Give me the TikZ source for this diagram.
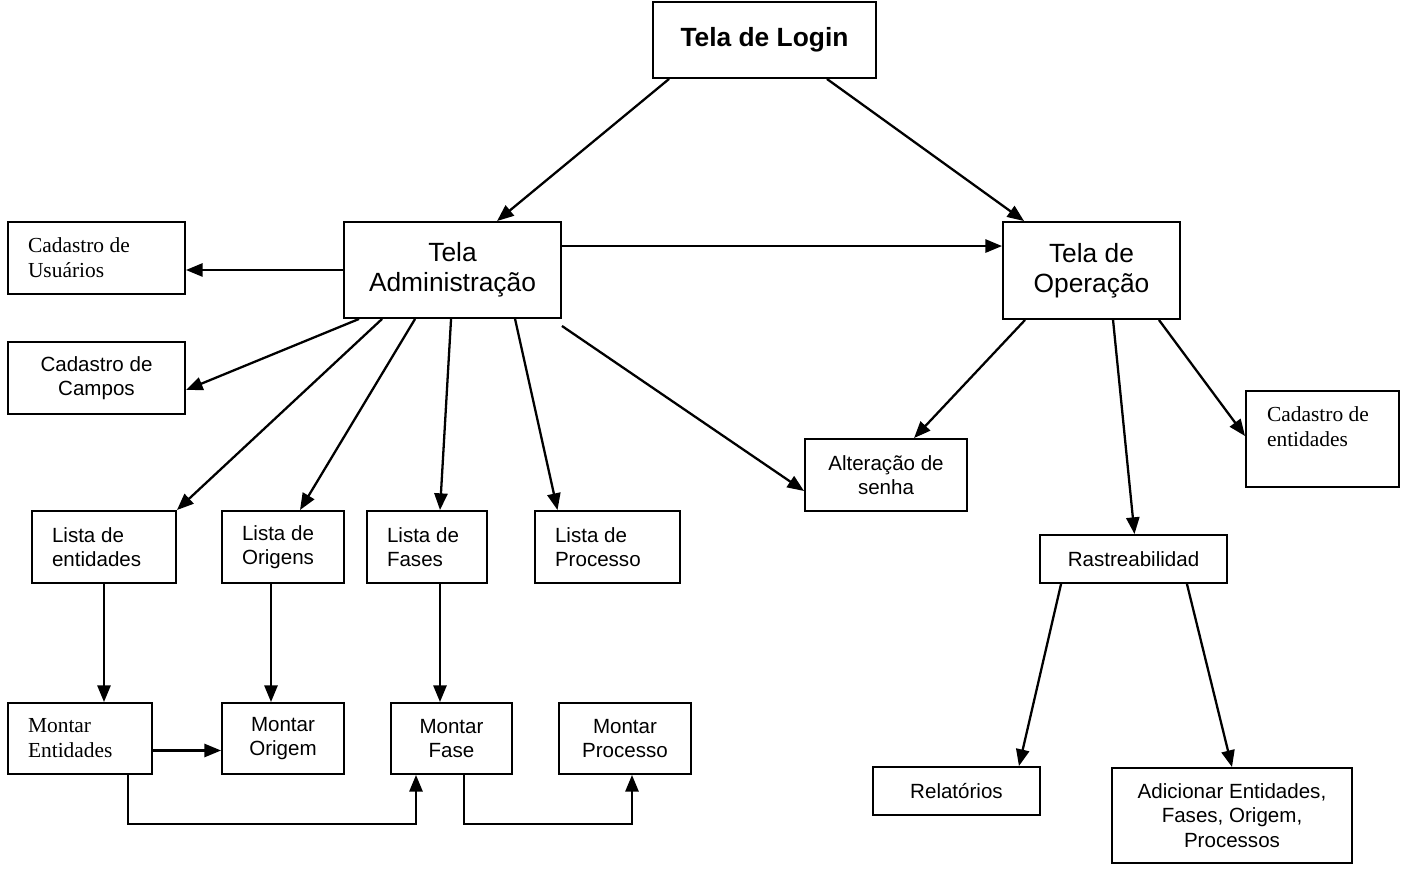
\documentclass[tikz,border=0pt]{standalone}
\usepackage{fontspec}
\setmainfont{Liberation Sans}
\newfontfamily\timesfont{Liberation Serif}
\usetikzlibrary{calc,arrows.meta}

\newcommand{\boxfont}{\fontsize{11.7}{14}\selectfont}
\newcommand{\bigfont}{\fontsize{15}{17.2}\selectfont}
\newcommand{\serfont}{\timesfont\fontsize{12.2}{14.2}\selectfont}

\tikzset{
  box/.style={draw, line width=1.1pt, inner sep=0pt, align=center, font=\boxfont},
  lbox/.style={box, align=flush left, inner xsep=0.4cm},
  sbox/.style={lbox, font=\serfont},
  arr/.style={-{Triangle[length=9.5pt,width=7.5pt]}, line width=1.3pt}
}

\begin{document}
\begin{tikzpicture}[x=0.02cm,y=-0.02cm]
        \useasboundingbox (0,0) rectangle (1404,871);

        \node[box,font=\bigfont\bfseries,minimum width=4.46cm,minimum height=1.52cm] (login) at (764.5,40) {Tela de Login};

        \node[box,font=\bigfont,minimum width=4.34cm,minimum height=1.92cm] (admin) at (452.5,270) {Tela\\Administração};
        \node[box,font=\bigfont,minimum width=3.54cm,minimum height=1.94cm] (oper) at (1091.5,270.5) {Tela de\\Operação};

        \node[sbox,text width=2.74cm,minimum height=1.44cm] (cadu) at (96.5,258) {Cadastro de\\Usuários};
        \node[box,minimum width=3.54cm,minimum height=1.44cm] (cadc) at (96.5,378) {Cadastro de\\Campos};
        \node[box,minimum width=3.24cm,minimum height=1.44cm] (alter) at (886,475) {Alteração de\\senha};
        \node[sbox,inner xsep=0.42cm,text width=2.22cm,minimum height=1.92cm] (cade) at (1322.5,439) {Cadastro de\\entidades\\\mbox{}};

        \node[lbox,text width=2.08cm,minimum height=1.44cm] (lent) at (104,547) {Lista de\\entidades};
        \node[lbox,text width=1.64cm,minimum height=1.44cm] (lori) at (283,547) {Lista de\\Origens};
        \node[lbox,text width=1.60cm,minimum height=1.44cm] (lfas) at (427,547) {Lista de\\Fases};
        \node[lbox,text width=2.10cm,minimum height=1.44cm] (lpro) at (607.5,547) {Lista de\\Processo};
        \node[box,minimum width=3.74cm,minimum height=0.96cm] (rast) at (1133.5,559) {Rastreabilidad};

        \node[sbox,text width=2.08cm,minimum height=1.42cm] (ment) at (80,738.5) {Montar\\Entidades};
        \node[box,minimum width=2.44cm,minimum height=1.42cm] (mori) at (283,738.5) {Montar\\Origem};
        \node[box,minimum width=2.42cm,minimum height=1.42cm] (mfas) at (451.5,738.5) {Montar\\Fase};
        \node[box,minimum width=2.64cm,minimum height=1.42cm] (mpro) at (625,738.5) {Montar\\Processo};

        \node[box,minimum width=3.34cm,minimum height=0.96cm] (rel) at (956.5,791) {Relatórios};
        \node[box,minimum width=4.80cm,minimum height=1.90cm] (adic) at (1232,815.5) {Adicionar Entidades,\\Fases, Origem,\\Processos};

        \coordinate (ao) at ($(admin.north east)+(0,25)$);

        \path[arr] ($(login.south west)+(17,0)$) edge ($(admin.north west)+(154,0)$);
        \path[arr] ($(login.south east)+(-50,0)$) edge ($(oper.north west)+(22,0)$);

        \path[arr] (admin.west) edge (admin.west -| cadu.east);
        \path[arr] (ao) edge (ao -| oper.west);
        \path[arr] ($(admin.south west)+(16,0)$) edge ($(cadc.east)+(0,12)$);
        \path[arr] ($(admin.south west)+(39,0)$) edge (lent.north east);
        \path[arr] ($(admin.south west)+(72,0)$) edge ($(lori.north)+(17,0)$);
        \path[arr] ($(admin.south west)+(108,0)$) edge ($(lfas.north)+(13,0)$);
        \path[arr] ($(admin.south west)+(172,0)$) edge ($(lpro.north)+(-50,0)$);
        \path[arr] ($(admin.south east)+(0,7)$) edge ($(alter.west)+(0,16)$);

        \path[arr] ($(oper.south west)+(23,0)$) edge ($(alter.north west)+(110,0)$);
        \path[arr] ($(oper.south west)+(111,0)$) edge ($(rast.north)+(1,0)$);
        \path[arr] ($(oper.south east)+(-22,0)$) edge ($(cade.north west)+(0,46)$);

        \path[arr] (lent.south) edge (lent.south |- ment.north);
        \path[arr] ($(lori.south)+(-12,0)$) edge ($(mori.north)+(-12,0)$);
        \path[arr] ($(lfas.south)+(13,0)$) edge ($(mfas.north)+(-11.5,0)$);
        \path[arr] ($(ment.east)+(0,12)$) edge ($(mori.west)+(0,12)$);

        \draw[arr] ($(ment.south)+(48,0)$) -- ++(0,49) -| ($(mfas.south)+(-35.5,0)$);
        \draw[arr] ($(mfas.south)+(12.5,0)$) -- ++(0,49) -| ($(mpro.south)+(7,0)$);

        \path[arr] ($(rast.south west)+(22,0)$) edge ($(rel.north east)+(-22,0)$);
        \path[arr] ($(rast.south east)+(-41,0)$) edge (adic.north);

    \end{tikzpicture}
\end{document}
